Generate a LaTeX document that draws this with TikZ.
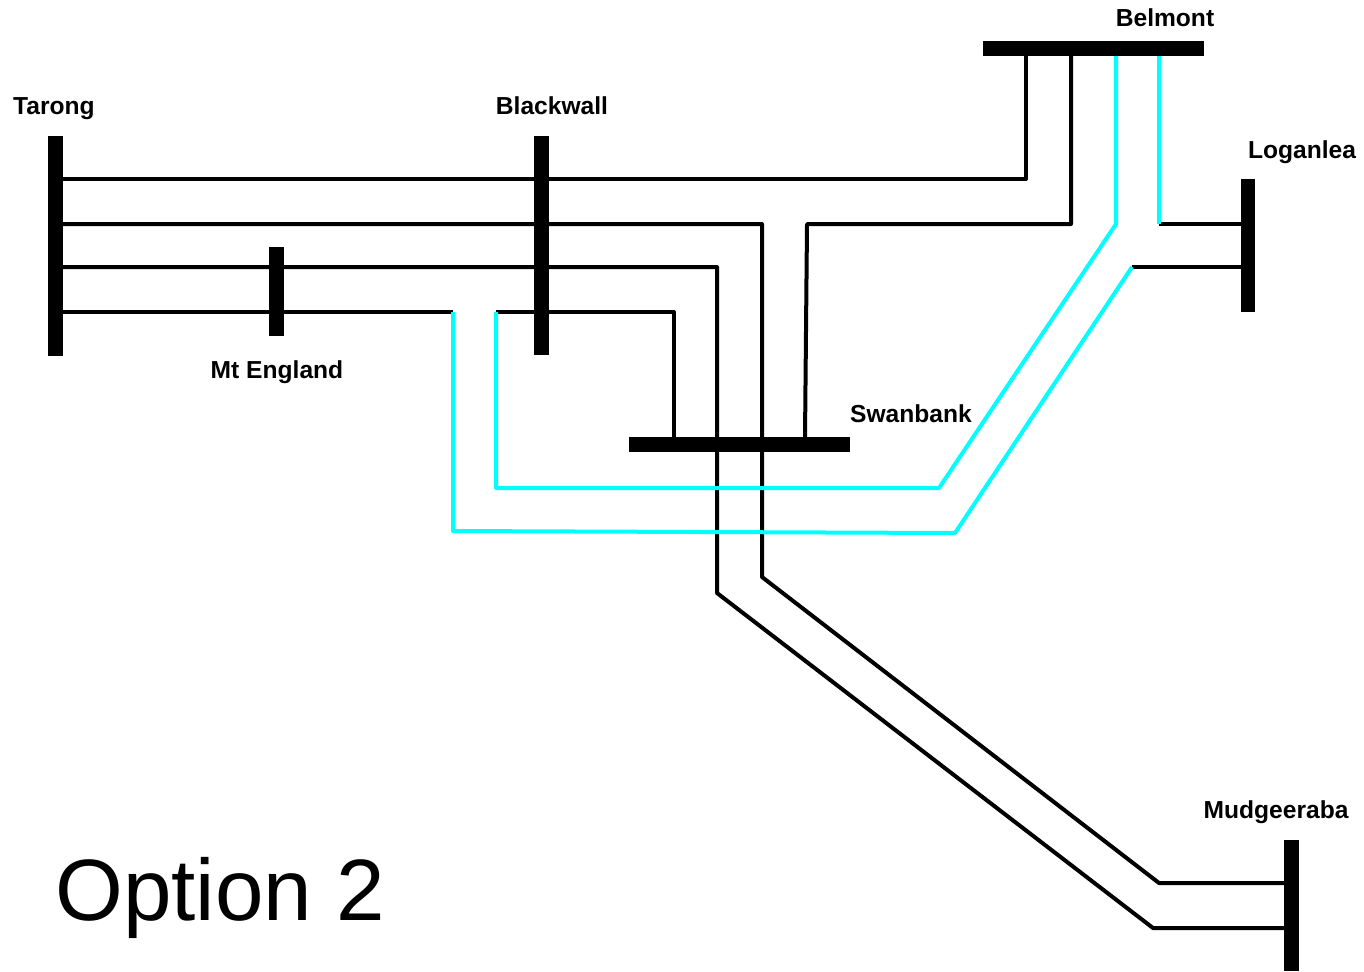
\documentclass[tikz,border=0pt]{standalone}
\usepackage{fontspec}
\setmainfont{Liberation Sans}
\usetikzlibrary{calc}
\definecolor{newline}{RGB}{0,255,255}
\tikzstyle{bus} = [rectangle, fill=black, draw=none, inner sep=0pt, outer sep=0pt]
\tikzstyle{vbus} = [bus, minimum width=0.29cm]
\tikzstyle{hbus} = [bus, minimum height=0.3cm]
\tikzstyle{label} = [anchor=base, inner sep=0pt, font=\fontsize{14pt}{16pt}\selectfont\bfseries]
\tikzstyle{line} = [line width=0.08cm, line join=round, line cap=butt, black]
\tikzstyle{new} = [line, newline]

\begin{document}
\begin{tikzpicture}[x=0.02cm, y=-0.02cm]
\useasboundingbox (0,0) rectangle (1364,971);

% Buses
\node (tarong) [vbus, minimum height=4.4cm] at (55.5,246) {};
\node (blackwall) [vbus, minimum height=4.38cm] at (541.5,245.5) {};
\node (mtengland) [vbus, minimum height=1.78cm] at (276.5,291.5) {};
\node (belmont) [hbus, minimum width=4.42cm] at (1093.5,48.5) {};
\node (loganlea) [vbus, minimum height=2.66cm] at (1248,245.5) {};
\node (swanbank) [hbus, minimum width=4.42cm] at (739.5,444.5) {};
\node (mudgeeraba) [vbus, minimum height=2.62cm] at (1291.5,905.5) {};

% Labels
\node (ltarong) [label] at (54,114) {Tarong};
\node (lblackwall) [label] at (552,114) {Blackwall};
\node (lmtengland) [label] at (277,378) {Mt England};
\node (lbelmont) [label] at (1165,26) {Belmont};
\node (lloganlea) [label] at (1302,158) {Loganlea};
\node (lswanbank) [label] at (911,422) {Swanbank};
\node (lmudgeeraba) [label] at (1276,818) {Mudgeeraba};
\node (title) [anchor=base, inner sep=0pt, font=\fontsize{49.6pt}{56pt}\selectfont] at (220,920) {Option 2};

% Bends
\coordinate (a1) at (1026,179);
\coordinate (b1) at (762,224);
\coordinate (b2) at (762,577);
\coordinate (b3) at (1159,883);
\coordinate (c1) at (717,267);
\coordinate (c2) at (717,593);
\coordinate (c3) at (1153,928);
\coordinate (d1) at (453,312);
\coordinate (d2) at (453,531);
\coordinate (d3) at (955,533);
\coordinate (d4) at (1132,267);
\coordinate (e1) at (496,312);
\coordinate (e2) at (674,312);
\coordinate (e3) at (496,488);
\coordinate (e4) at (939,488);
\coordinate (e5) at (1116,224);
\coordinate (f1) at (805,437);
\coordinate (f2) at (807,224);
\coordinate (f3) at (1071,224);
\coordinate (g1) at (1159,224);

% Black lines
\draw [line] (tarong.east |- a1) -- (a1) -- (belmont.south -| a1);
\draw [line] (tarong.east |- b1) -- (b1) -- (b2) -- (b3) -- (mudgeeraba.west |- b3);
\draw [line] (tarong.east |- c1) -- (c1) -- (c2) -- (c3) -- (mudgeeraba.west |- c3);
\draw [line] (tarong.east |- d1) -- (d1);
\draw [line] (e1) -- (e2) -- (swanbank.north -| e2);
\draw [line] (f1) -- (f2) -- (f3) -- (belmont.south -| f3);
\draw [line] (d4) -- (loganlea.west |- d4);
\draw [line] (g1) -- (loganlea.west |- g1);

% Cyan lines
\draw [new] (d1) -- (d2) -- (d3) -- (d4);
\draw [new] (e1) -- (e3) -- (e4) -- (e5) -- (belmont.south -| e5);
\draw [new] (belmont.south -| g1) -- (g1);

\end{tikzpicture}
\end{document}
